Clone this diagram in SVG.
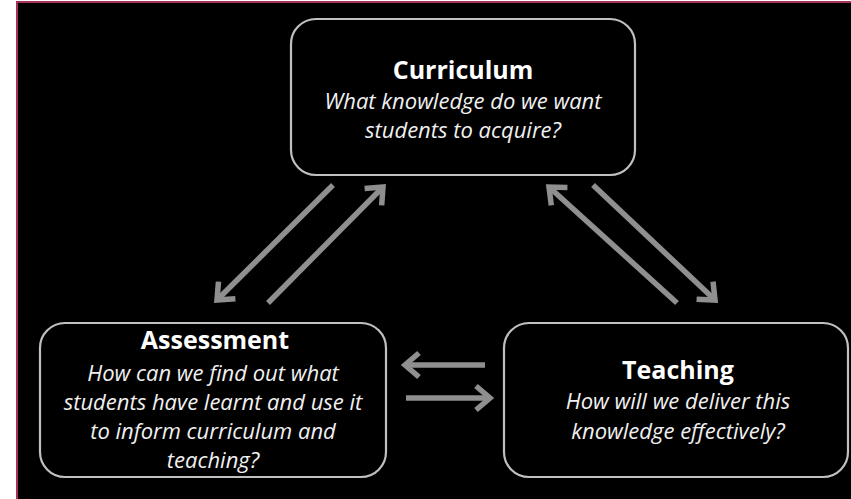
<svg xmlns="http://www.w3.org/2000/svg" width="851" height="499" viewBox="0 0 851 499">
<defs>
<style>
.box{fill:#000;stroke:#c0c0c0;stroke-width:2.2}
.title{font-family:"Open Sans","Liberation Sans",sans-serif;font-weight:bold;font-size:25px;fill:#fff;text-anchor:middle}
.sub{font-family:"Open Sans","Liberation Sans",sans-serif;font-style:italic;font-size:22px;fill:#f0f0f0;text-anchor:middle}
.arr{stroke:#8f8f8f;stroke-width:5.5;fill:none;marker-end:url(#head)}
</style>
<marker id="head" markerUnits="userSpaceOnUse" markerWidth="30" markerHeight="30" refX="0" refY="0" viewBox="-20 -15 25 30" orient="auto">
<path d="M-14,-12 L0,0 L-14,12" fill="none" stroke="#8f8f8f" stroke-width="5.5" stroke-linecap="butt" stroke-linejoin="miter"/>
</marker>
</defs>
<rect x="0" y="0" width="851" height="499" fill="#fff"/>
<rect x="16" y="1" width="835" height="498" fill="#a83258"/>
<rect x="18" y="3" width="833" height="496" fill="#000"/>
<g id="connectors">
<line class="arr" x1="333" y1="185" x2="217" y2="300"/>
<line class="arr" x1="268" y1="303" x2="383" y2="187"/>
<line class="arr" x1="677" y1="303" x2="549" y2="187"/>
<line class="arr" x1="593" y1="185" x2="715" y2="300"/>
<line class="arr" x1="485" y1="365" x2="405" y2="365"/>
<line class="arr" x1="406" y1="398" x2="490" y2="398"/>
</g>
<g id="curriculum">
<rect class="box" x="291" y="19" width="344" height="156" rx="25"/>
<text class="title" x="463" y="79">Curriculum</text>
<text class="sub" x="463" y="109">What knowledge do we want</text>
<text class="sub" x="463" y="138">students to acquire?</text>
</g>
<g id="assessment">
<rect class="box" x="40" y="323" width="346" height="154" rx="25"/>
<text class="title" x="215" y="349">Assessment</text>
<text class="sub" x="213" y="381">How can we find out what</text>
<text class="sub" x="213" y="410">students have learnt and use it</text>
<text class="sub" x="213" y="439">to inform curriculum and</text>
<text class="sub" x="213" y="468">teaching?</text>
</g>
<g id="teaching">
<rect class="box" x="504" y="323" width="344" height="154" rx="25"/>
<text class="title" x="678" y="379">Teaching</text>
<text class="sub" x="678" y="409">How will we deliver this</text>
<text class="sub" x="678" y="439">knowledge effectively?</text>
</g>
</svg>
